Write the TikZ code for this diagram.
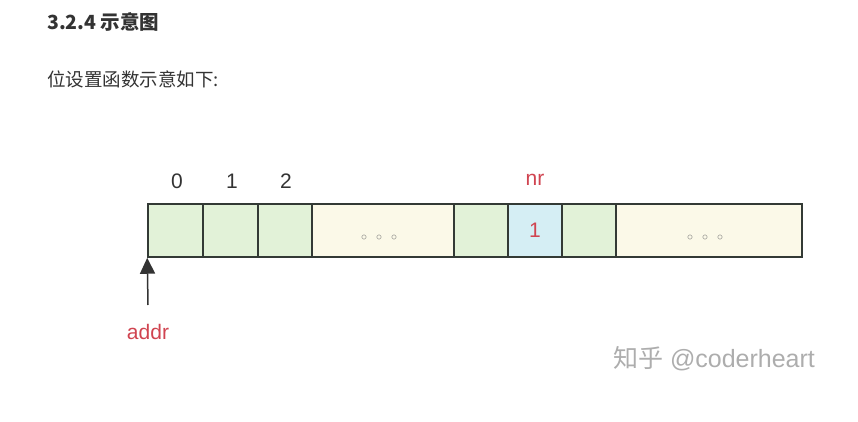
\documentclass[tikz,border=0pt]{standalone}
\usepackage{fontspec}
\setmainfont{Liberation Sans}
\newfontfamily\cjkfont{Noto Sans CJK SC}
\usetikzlibrary{arrows.meta,positioning}
\definecolor{cellgreen}{HTML}{E2F2D8}
\definecolor{cellcream}{HTML}{FBF9E8}
\definecolor{cellblue}{HTML}{D5EEF4}
\definecolor{cellborder}{HTML}{333A35}
\definecolor{labelred}{HTML}{D04450}
\definecolor{labelgray}{HTML}{333333}
\definecolor{markgray}{HTML}{8A8A8A}
\tikzset{bit cell/.style={rectangle, draw=cellborder, line width=1.5pt,
    fill=cellgreen, minimum height=53pt, inner sep=0pt}}
\tikzset{gap cell/.style={bit cell, fill=cellcream}}
\tikzset{set cell/.style={bit cell, fill=cellblue}}
\tikzset{index label/.style={text=labelgray, font=\fontsize{21}{21}\selectfont}}
\tikzset{red label/.style={index label, text=labelred}}
\tikzset{gap dots/.style={text=markgray!85!black, font=\fontsize{13}{13}\selectfont, inner sep=0pt}}
\tikzset{pointer edge/.style={draw=labelgray, line width=1.5pt, -{Triangle[length=16pt,width=15pt]}}}
\newcommand{\gapdots}{$\circ$\hspace{9pt}$\circ$\hspace{9pt}$\circ$}

\begin{document}
\begin{tikzpicture}
  [x=1pt, y=-1pt]
  \useasboundingbox (0,0) rectangle (858,422);
  \node [anchor=west, inner sep=0pt, text=labelgray, font=\cjkfont\bfseries\fontsize{19.5}{19.5}\selectfont] (title) at (47,22) {3.2.4 示意图};
  \node [anchor=west, inner sep=0pt, text=labelgray, font=\cjkfont\fontsize{18.5}{18.5}\selectfont]          (intro) at (47,79) {位设置函数示意如下:};

  \node [bit cell, minimum width=55pt]  (c0)   at (175.5,230.5) {};
  \node [bit cell, minimum width=55pt]  (c1)   at (230.5,230.5) {};
  \node [bit cell, minimum width=54pt]  (c2)   at (285,230.5)   {};
  \node [gap cell, minimum width=142pt] (gap1) at (383,230.5)   {};
  \node [bit cell, minimum width=54pt]  (c4)   at (481,230.5)   {};
  \node [set cell, minimum width=54pt]  (cnr)  at (535,230.5)   {\color{labelred}\fontsize{21}{21}\selectfont 1};
  \node [bit cell, minimum width=54pt]  (c6)   at (589,230.5)   {};
  \node [gap cell, minimum width=186pt] (gap2) at (709,230.5)   {};

  \node [gap dots] (dots1) at (379,238) {\gapdots};
  \node [gap dots] (dots2) at (705,238) {\gapdots};

  \node [index label] (i0)   at (177,181) {0};
  \node [index label] (i1)   at (232,181) {1};
  \node [index label] (i2)   at (286,181) {2};
  \node [red label]   (inr)  at (535,180) {nr};
  \node [red label]   (addr) at (148,332) {addr};

  \coordinate (tail) at (148,305);
  \draw [pointer edge] (tail) -- (c0.south west);

  \node [text=markgray!70, font=\fontsize{25}{25}\selectfont] (mark) at (714,359) {{\cjkfont 知乎} @coderheart};
\end{tikzpicture}
\end{document}
